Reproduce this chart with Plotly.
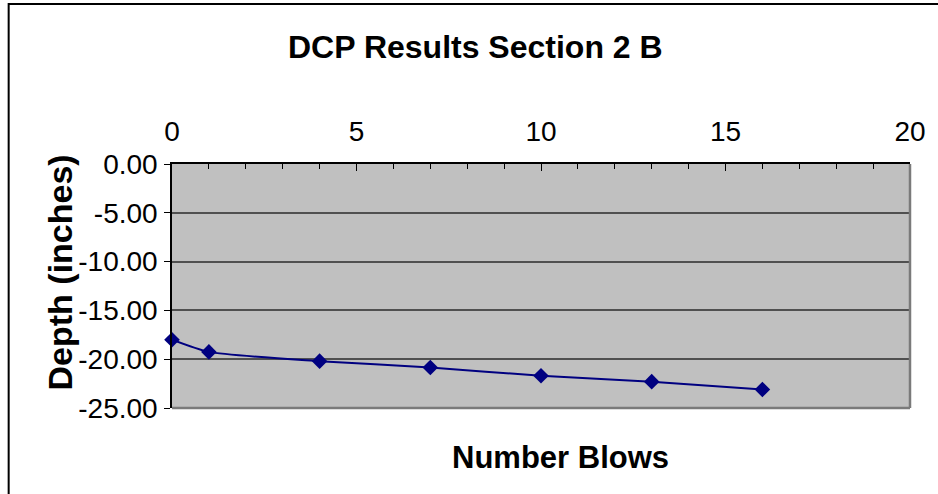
import plotly.graph_objects as go

# DCP penetration test, section 2 B
blows = [0, 1, 4, 7, 10, 13, 16]
depth = [-18.0, -19.25, -20.2, -20.85, -21.7, -22.3, -23.1]

x_ticks = [0, 5, 10, 15, 20]
y_ticks = [0, -5, -10, -15, -20, -25]
y_labels = [f"{v:.2f}" for v in y_ticks]  # plain hyphen minus sign

NAVY = "#000080"
FONT = "Arial, Liberation Sans, sans-serif"

fig = go.Figure()
fig.add_trace(go.Scatter(
    x=blows, y=depth,
    mode="lines+markers",
    line=dict(color=NAVY, width=2, shape="spline", smoothing=0.6),
    marker=dict(symbol="diamond", size=12, color=NAVY),
    showlegend=False,
    cliponaxis=False,
))

fig.update_layout(
    width=938, height=494,
    margin=dict(l=172, r=25, t=164, b=86),
    paper_bgcolor="white",
    plot_bgcolor="#C0C0C0",
    font=dict(family=FONT, color="black"),
    xaxis=dict(
        side="top", range=[0, 20], tickvals=x_ticks,
        ticks="inside", ticklen=7, tickcolor="black", tickwidth=1,
        minor=dict(dtick=1, ticks="inside", ticklen=5, tickcolor="black"),
        showgrid=False, zeroline=False,
        showline=True, linecolor="black", linewidth=1.5, mirror=False,
        tickfont=dict(size=28), ticklabelstandoff=10,
    ),
    yaxis=dict(
        range=[-25, 0], tickvals=y_ticks, ticktext=y_labels,
        ticks="outside", ticklen=6, tickcolor="black",
        showgrid=True, gridcolor="#505050", gridwidth=1.5,
        zeroline=False,
        showline=True, linecolor="black", linewidth=1.5,
        tickfont=dict(size=28), ticklabelstandoff=1,
    ),
    annotations=[
        dict(text="<b>DCP Results Section 2 B</b>", xref="paper", yref="paper",
             x=(477 - 172) / 741, y=1 + (164 - 47) / 244, showarrow=False,
             font=dict(size=32), xanchor="center", yanchor="middle"),
        dict(text="<b>Number Blows</b>", xref="paper", yref="paper",
             x=(562 - 172) / 741, y=-(457 - 408) / 244, showarrow=False,
             font=dict(size=31), xanchor="center", yanchor="middle"),
        dict(text="<b>Depth (inches)</b>", xref="paper", yref="paper",
             x=-(172 - 60) / 741, y=(408 - 272) / 244, showarrow=False,
             font=dict(size=34), textangle=-90, xanchor="center", yanchor="middle"),
    ],
    shapes=[
        # right and bottom edges of the plot area in gray
        dict(type="line", xref="paper", yref="paper", x0=1, x1=1, y0=0, y1=1,
             line=dict(color="#7a7a7a", width=2.5)),
        dict(type="line", xref="paper", yref="paper", x0=0, x1=1, y0=0, y1=0,
             line=dict(color="#7a7a7a", width=2.5)),
        # chart frame
        dict(type="rect", xref="paper", yref="paper",
             x0=-(172 - 8) / 741, x1=1 + 40 / 741,
             y0=-(494 - 408 + 20) / 244, y1=1 + (164 - 4) / 244,
             line=dict(color="black", width=2), layer="above"),
    ],
)

fig.write_html("out.html")
